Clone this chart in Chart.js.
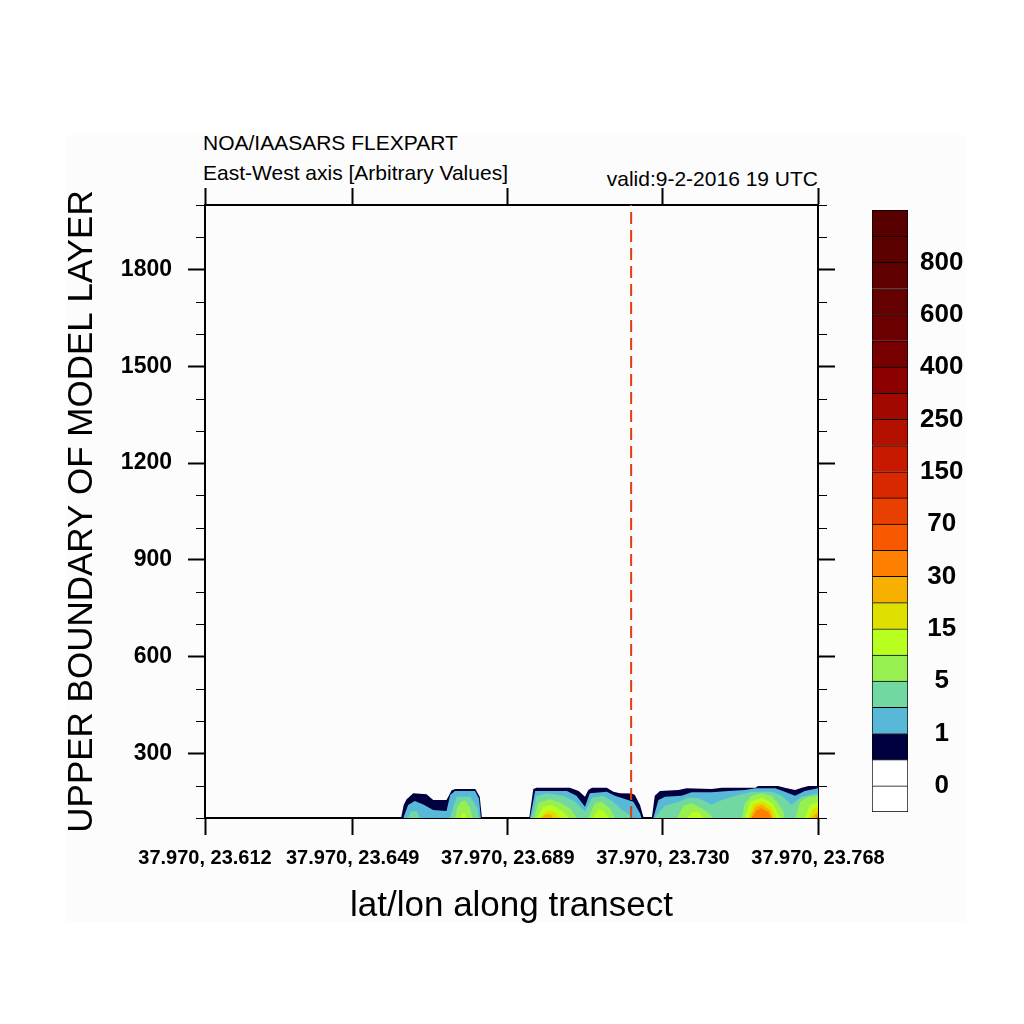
<!DOCTYPE html>
<html lang="en">
<head>
<meta charset="UTF-8">
<title>FLEXPART transect</title>
<script src="https://cdn.jsdelivr.net/npm/chart.js"></script>
<style>
  body { margin: 0; background: #fff; font-family: "Liberation Sans", Arial, Helvetica, sans-serif; }
  #page { position: relative; width: 1024px; height: 1024px; overflow: hidden; }
  .panel { position: absolute; left: 67px; top: 135px; width: 898px; height: 787px; background: #fcfcfc; }
  .head { position: absolute; font-size: 21px; line-height: 21px; color: #000; white-space: nowrap; }
  #main { position: absolute; left: 0; top: 0; }
  #bar { position: absolute; left: 850px; top: 0; }
</style>
</head>
<body>
<div id="page">
  <div class="panel"></div>
  <div class="head" style="left:203px; top:132px">NOA/IAASARS FLEXPART</div>
  <div class="head" style="left:203px; top:162px">East-West axis [Arbitrary Values]</div>
  <div class="head" style="right:206px; top:168px">valid:9-2-2016 19 UTC</div>
  <canvas id="main" width="1024" height="1024"></canvas>
  <canvas id="bar" width="174" height="1024"></canvas>
</div>

<script>
// transect columns 0..83, tick columns and their lat/lon labels
const xTickCols = [0, 20, 41, 62, 83];
const xTickLabels = ["37.970, 23.612", "37.970, 23.649", "37.970, 23.689", "37.970, 23.730", "37.970, 23.768"];
const yTickValues = [300, 600, 900, 1200, 1500, 1800];
const markerCol = 57.7;

// upper edge (m) of each concentration band along the transect
const navyCols = [26.55, 26.9, 27.3, 28.2, 30.0, 30.9, 32.7, 33.4, 33.9, 36.6, 37.2, 37.5,
                  43.9, 44.45, 44.9, 49.4, 50.6, 51.45, 51.9, 52.4, 54.4, 55.3, 56.2, 57.8, 58.2, 58.9, 59.35, 59.5,
                  60.5, 60.9, 61.6, 64.1, 65.2, 68.6, 70.0, 74.5, 74.9, 77.6, 78.5, 79.9, 80.8, 81.7, 83];
const navyTops = [100, 140, 158, 177, 174, 156, 156, 186, 190, 190, 166, 100,
                  100, 190, 194, 194, 184, 166, 187, 194, 194, 181, 177, 176, 171, 140, 104, 100,
                  100, 169, 184, 187, 192, 190, 194, 194, 199, 199, 194, 187, 194, 199, 199];

const skyCols = [26.85, 27.5, 28.4, 29.56, 30.9, 32.7, 33.2, 33.85, 36.56, 37.1, 37.35,
                 44.0, 44.7, 49.0, 50.3, 51.45, 52.1, 54.4, 55.5, 58.0, 58.9, 59.1,
                 60.7, 61.4, 62.3, 64.5, 65.9, 68.6, 70.9, 73.1, 74.5, 77.2, 78.5, 79.9, 81.2, 83];
const skyTops = [100, 140, 153, 142, 125, 122, 171, 184, 184, 160, 100,
                 100, 184, 184, 169, 135, 177, 181, 169, 150, 115, 100,
                 100, 156, 166, 169, 180, 180, 184, 187, 192, 192, 181, 169, 184, 192];

const tealCols = [27.5, 27.9, 28.7, 29.1, 33.2, 33.4, 34.1, 35.9, 36.9, 37.1,
                  44.2, 44.9, 46.3, 48.5, 50.1, 51.45, 52.4, 53.9, 55.3, 56.2, 57.5, 57.8,
                  60.9, 61.6, 62.3, 64.1, 65.4, 66.8, 68.6, 70.0, 72.2, 74.0, 76.7, 78.1, 79.4, 80.8, 83];
const tealTops = [100, 121, 121, 100, 100, 119, 166, 166, 130, 100,
                  100, 169, 177, 169, 150, 120, 163, 169, 150, 130, 109, 100,
                  100, 122, 138, 150, 163, 161, 142, 156, 171, 181, 181, 169, 142, 166, 177];

const limeCols = [33.85, 34.2, 34.76, 35.3, 35.9, 36.25,
                  44.55, 45.1, 46.7, 48.3, 49.65, 50.3, 51.9, 52.8, 53.7, 54.8, 55.5,
                  63.9, 64.8, 65.9, 67.25, 68.4, 68.7, 72.7, 73.1, 74.0, 75.4, 76.7, 77.6, 78.3, 78.5, 79.9, 80.6, 81.7, 83];
const limeTops = [100, 135, 153, 153, 130, 100,
                  100, 146, 159, 146, 125, 100, 100, 146, 151, 130, 100,
                  100, 138, 146, 130, 112, 100, 100, 146, 169, 177, 169, 146, 121, 100, 100, 151, 166, 169];

const chartreuseCols = [34.6, 34.8, 35.2, 35.4,
                        44.9, 45.8, 46.9, 48.5, 49.2, 52.5, 53.25, 53.9, 54.7,
                        65.4, 65.9, 66.8, 67.5, 73.1, 73.8, 75.4, 76.9, 77.6, 77.9, 81.2, 81.9, 83];
const chartreuseTops = [100, 114, 114, 100,
                        100, 135, 140, 120, 100, 100, 125, 122, 100,
                        100, 118, 118, 100, 100, 150, 163, 146, 112, 100, 100, 140, 150];

const yellowCols = [45.36, 46.3, 47.2, 48.1, 73.6, 74.2, 75.4, 76.7, 77.4, 81.7, 82.4, 83];
const yellowTops = [100, 122, 120, 100, 100, 142, 153, 135, 100, 100, 130, 135];

const amberCols = [45.6, 46.0, 46.8, 47.1, 73.8, 74.5, 75.4, 76.5, 76.9, 82.1, 83];
const amberTops = [100, 110, 112, 100, 100, 135, 142, 125, 100, 100, 120];

const orangeCols = [74.0, 74.7, 75.4, 76.3, 76.7, 82.7, 83];
const orangeTops = [100, 125, 130, 118, 100, 100, 112];

// label bar, bottom to top
const barColors = ["#ffffff", "#ffffff", "#000040", "#58b8d8", "#70d8a0", "#98f050", "#b8ff20", "#e0e000",
                   "#f8b000", "#ff8000", "#f85800", "#e84000", "#d82800", "#c81800", "#b41000", "#a00800",
                   "#8c0000", "#780000", "#6c0000", "#640000", "#600000", "#5c0000", "#580000"];
const barLabelPos = [1, 3, 5, 7, 9, 11, 13, 15, 17, 19, 21];
const barLabels = ["0", "1", "5", "15", "30", "70", "150", "250", "400", "600", "800"];

const FONT = '"Liberation Sans", Arial, Helvetica, sans-serif';

const bands = [
  [navyCols, navyTops, barColors[2]],
  [skyCols, skyTops, barColors[3]],
  [tealCols, tealTops, barColors[4]],
  [limeCols, limeTops, barColors[5]],
  [chartreuseCols, chartreuseTops, barColors[6]],
  [yellowCols, yellowTops, barColors[7]],
  [amberCols, amberTops, barColors[8]],
  [orangeCols, orangeTops, barColors[9]]
];

function setTicks(vals) { return s => { s.ticks = vals.map(v => ({ value: v })); }; }
function fixWidth(w) { return s => { s.width = w; }; }
function fixHeight(h) { return s => { s.height = h; }; }

const frameGrid = { display: true, drawOnChartArea: false, drawTicks: true, tickLength: 17, tickWidth: 2, tickColor: "#000" };
const frameBorder = { display: true, width: 2, color: "#000" };

// first dataset is drawn last, so the dashed marker goes first and the outer band last
const datasets = [{
  data: [{ x: markerCol, y: 100 }, { x: markerCol, y: 2000 }],
  borderColor: "#e03c14",
  borderWidth: 2,
  borderDash: [12, 6],
  pointRadius: 0,
  fill: false
}];
for (let k = bands.length - 1; k >= 0; k--) {
  const [cols, tops, color] = bands[k];
  datasets.push({
    data: cols.map((c, i) => ({ x: c, y: tops[i] })),
    backgroundColor: color,
    borderColor: "rgba(0,0,0,0)",
    borderWidth: 0,
    pointRadius: 0,
    fill: "start",
    tension: 0
  });
}

const minorTicks = {
  id: "minorTicks",
  afterDraw(chart) {
    const { ctx, chartArea: a } = chart;
    const y = chart.scales.y;
    ctx.save();
    ctx.strokeStyle = "#000";
    ctx.lineWidth = 1;
    ctx.beginPath();
    for (let v = 100; v <= 2000; v += 100) {
      if (v % 300 === 0) continue;
      const py = Math.round(y.getPixelForValue(v)) + 0.5;
      ctx.moveTo(a.left - 9, py); ctx.lineTo(a.left, py);
      ctx.moveTo(a.right, py); ctx.lineTo(a.right + 9, py);
    }
    ctx.stroke();
    ctx.restore();
  }
};

new Chart(document.getElementById("main"), {
  type: "line",
  data: { datasets: datasets },
  plugins: [minorTicks],
  options: {
    responsive: false,
    animation: false,
    events: [],
    plugins: { legend: { display: false }, tooltip: { enabled: false } },
    scales: {
      x: {
        type: "linear", position: "bottom", min: 0, max: 83,
        afterBuildTicks: setTicks(xTickCols), afterFit: fixHeight(206),
        grid: frameGrid, border: frameBorder,
        ticks: { autoSkip: false, maxRotation: 0, padding: 11, color: "#000",
                 font: { family: FONT, size: 20, weight: "bold" }, callback: (v, i) => xTickLabels[i] },
        title: { display: true, text: "lat/lon along transect", color: "#000",
                 font: { family: FONT, size: 35 }, padding: { top: 0, bottom: 97 } }
      },
      x2: {
        type: "linear", position: "top", min: 0, max: 83,
        afterBuildTicks: setTicks(xTickCols), afterFit: fixHeight(205),
        grid: frameGrid, border: frameBorder, ticks: { display: false }
      },
      y: {
        type: "linear", position: "left", min: 100, max: 2000,
        afterBuildTicks: setTicks(yTickValues), afterFit: fixWidth(205),
        grid: frameGrid, border: frameBorder,
        ticks: { padding: 16, color: "#000", font: { family: FONT, size: 23, weight: "bold" }, callback: v => String(v) },
        title: { display: true, text: "UPPER BOUNDARY OF MODEL LAYER", color: "#000",
                 font: { family: FONT, size: 35 }, padding: { top: 61, bottom: 0 } }
      },
      y2: {
        type: "linear", position: "right", min: 100, max: 2000,
        afterBuildTicks: setTicks(yTickValues), afterFit: fixWidth(206),
        grid: frameGrid, border: frameBorder, ticks: { display: false }
      }
    }
  }
});

new Chart(document.getElementById("bar"), {
  type: "bar",
  data: {
    labels: [""],
    datasets: barColors.map((c, i) => ({
      data: [1],
      backgroundColor: c,
      borderColor: "#000",
      borderWidth: i === 0 ? 1 : { top: 1, left: 1, right: 1, bottom: 0 },
      borderSkipped: false,
      barPercentage: 1,
      categoryPercentage: 1
    }))
  },
  options: {
    responsive: false,
    animation: false,
    events: [],
    layout: { padding: { left: 22, top: 210, bottom: 212, right: 0 } },
    plugins: { legend: { display: false }, tooltip: { enabled: false } },
    scales: {
      x: { display: false, stacked: true },
      y: {
        stacked: true, position: "right", min: 0, max: 23,
        afterBuildTicks: setTicks(barLabelPos), afterFit: fixWidth(116),
        grid: { display: false, drawTicks: false }, border: { display: false },
        ticks: { crossAlign: "center", padding: 12, color: "#000",
                 font: { family: FONT, size: 26, weight: "bold" }, callback: (v, i) => barLabels[i] }
      }
    }
  }
});
</script>
</body>
</html>
